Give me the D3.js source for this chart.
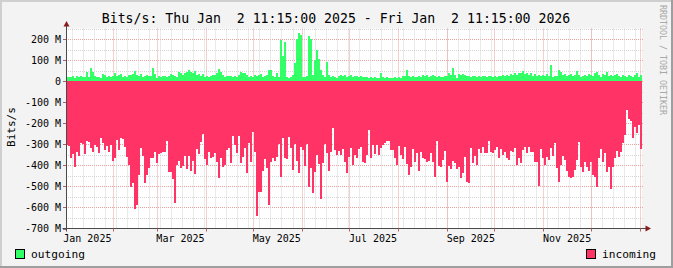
<!DOCTYPE html>
<html>
<head>
<meta charset="utf-8">
<script src="https://cdn.jsdelivr.net/npm/d3@7"></script>
<style>
  html, body { margin: 0; padding: 0; background: #f3f3f3; }
  svg { display: block; font-family: "DejaVu Sans Mono", monospace; }
</style>
</head>
<body>
<script>
// time window of the graph (one year, one value per consolidation step)
const startTime = new Date(2025, 0, 2, 11, 15);
const endTime = new Date(2026, 0, 2, 11, 15);

const titleText = 'Bits/s: Thu Jan  2 11:15:00 2025 - Fri Jan  2 11:15:00 2026';
const yAxisTitle = 'Bits/s';
const yTickValues = [200, 100, 0, -100, -200, -300, -400, -500, -600, -700];
const seriesNames = ['outgoing', 'incoming'];
const seriesColors = ['#33ff66', '#ff3366'];
const creditText = 'RRDTOOL / TOBI OETIKER';

// outgoing traffic, Mbit/s
const outgoing = [
  21,21,18,24,16,24,21,24,21,18, 43,21,62,45,23,21,21,16,32,28,
  21,24,18,26,37,26,29,32,18,26, 21,29,29,32,48,29,23,32,20,26,
  29,24,24,62,32,16,26,21,23,24, 21,26,32,29,24,21,42,40,29,37,
  42,51,42,37,48,29,32,24,32,21, 26,21,24,
  29,29,40,58,45,29,21,24,24,26, 21,26,20,29,45,37,37,29,21,24,
  18,29,26,29,32,21,24,29,53,53, 24,20,37,21,195,119,187,21,16,21,
  29,88,200,229,219,21,21,24,215,200, 29,100,148,103,53,29,21,91,29,21,
  24,21,16,24,29,26,29,21,26,29, 21,24,
  26,21,26,18,21,18,16,18,16,18, 16,16,40,21,16,18,16,16,16,18,
  16,18,13,24,26,53,24,21,26,18, 21,26,21,29,24,29,21,26,29,24,
  18,24,21,21,26,24,37,29,64,29, 16,32,29,32,29,26,24,21,24,26,
  21,24,21,24,26,21,24,26,21,24, 21,24,
  26,29,24,29,26,32,29,37,29,37, 40,48,32,37,29,37,26,32,26,29,
  24,29,26,32,24,77,21,24,26,53, 45,29,32,26,29,32,24,29,48,29,
  21,26,29,24,32,29,26,37,45,29, 21,32,29,45,26,29,24,29,32,26,
  21,29,26,21,29,24,21,29,40,21, 29
];

// incoming traffic, Mbit/s (drawn below zero)
const incoming = [
  -303,-308,-364,-346,-406,-337,-354,-294,-299,-346, -284,-288,-316,-338,-303,-311,-340,-272,-296,-327,
  -307,-335,-303,-379,-364,-280,-327,-272,-275,-311, -359,-398,-501,-486,-609,-588,-446,-319,-354,-482,
  -446,-411,-367,-364,-338,-390,-348,-343,-338,-338, -284,-432,-430,-465,-577,-398,-379,-414,-403,-356,
  -417,-356,-425,-379,-440,-324,-348,-291,-250,-368, -400,-335,-364,
  -359,-343,-383,-462,-367,-406,-398,-327,-319,-391, -261,-303,-343,-261,-387,-359,-319,-438,-296,-383,
  -243,-335,-639,-525,-525,-425,-370,-411,-588,-383, -364,-379,-359,-300,-454,-269,-364,-370,-264,-316,
  -422,-300,-379,-438,-311,-327,-402,-300,-501,-414, -533,-430,-351,-395,-561,-391,-300,-343,-425,-335,
  -224,-327,-351,-332,-351,-324,-383,-435,-359,-319, -398,-351,
  -364,-322,-311,-386,-391,-351,-232,-367,-303,-348, -303,-351,-316,-303,-296,-284,-284,-327,-327,-364,
  -398,-307,-351,-372,-311,-395,-446,-406,-322,-383, -343,-425,-335,-367,-370,-386,-379,-343,-386,-454,
  -284,-402,-406,-375,-332,-481,-402,-417,-379,-391, -417,-406,-462,-438,-359,-478,-482,-319,-391,-356,
  -398,-322,-340,-311,-343,-343,-284,-335,-343,-327, -314,-367,
  -322,-351,-335,-364,-375,-332,-335,-316,-398,-364, -391,-327,-311,-343,-311,-338,-335,-383,-386,-497,
  -322,-367,-398,-359,-375,-316,-354,-296,-414,-481, -398,-354,-375,-427,-454,-459,-454,-422,-375,-288,
  -406,-430,-383,-406,-427,-383,-446,-454,-501,-367, -322,-383,-343,-430,-406,-514,-406,-367,-332,-359,
  -338,-296,-256,-137,-180,-189,-269,-216,-248,-208, -322
];

const width = 673;
const height = 268;
const plot = { left: 66, right: 642, top: 28.5, bottom: 228.5 };

const svg = d3.select('body')
  .append('svg')
  .attr('width', width)
  .attr('height', height);

// background with the rrdtool style bevel
svg.append('rect').attr('width', width).attr('height', height).attr('fill', '#f3f3f3');
svg.append('path').attr('d', `M0,1H${width} M1,0V${height}`).attr('stroke', '#cfcfcf').attr('stroke-width', 2);
svg.append('path').attr('d', `M0,${height - 1}H${width} M${width - 1},0V${height}`).attr('stroke', '#9e9e9e').attr('stroke-width', 2);

const x = d3.scaleTime()
  .domain([startTime, endTime])
  .range([plot.left, plot.right]);
const y = d3.scaleLinear()
  .domain([-700, 250])
  .range([plot.bottom, plot.top]);

// canvas
svg.append('rect')
  .attr('x', plot.left)
  .attr('y', plot.top)
  .attr('width', plot.right - plot.left)
  .attr('height', plot.bottom - plot.top)
  .attr('fill', '#ffffff');

const px = v => Math.round(v) + 0.5;

// horizontal grid: minor every 50 M, major every 100 M
const grid = svg.append('g').attr('fill', 'none').attr('stroke-dasharray', '1,1');
d3.range(-650, 251, 50).forEach(v => {
  const major = v % 100 === 0;
  grid.append('line')
    .attr('x1', plot.left).attr('x2', plot.right + 1)
    .attr('y1', px(y(v))).attr('y2', px(y(v)))
    .attr('stroke', major ? '#eba0a0' : '#d4d4d4');
});

// vertical grid: weeks (Mondays) and months
const months = d3.timeMonth.range(startTime, endTime);
d3.timeMonday.range(startTime, endTime).forEach(d => {
  grid.append('line')
    .attr('x1', px(x(d))).attr('x2', px(x(d)))
    .attr('y1', plot.top).attr('y2', plot.bottom)
    .attr('stroke', '#d4d4d4');
});
months.forEach(d => {
  grid.append('line')
    .attr('x1', px(x(d))).attr('x2', px(x(d)))
    .attr('y1', plot.top).attr('y2', plot.bottom)
    .attr('stroke', '#eba0a0');
});

// step areas
const stepMs = (endTime - startTime) / outgoing.length;
const toPoints = values => values.map((v, i) => ({ t: new Date(+startTime + i * stepMs), v }))
  .concat([{ t: endTime, v: values[values.length - 1] }]);

const area = d3.area()
  .x(d => x(d.t))
  .y0(y(0))
  .y1(d => y(d.v))
  .curve(d3.curveStepAfter);

svg.append('path')
  .attr('d', area(toPoints(outgoing)))
  .attr('fill', seriesColors[0])
  .attr('shape-rendering', 'crispEdges');

svg.append('path')
  .attr('d', area(toPoints(incoming)))
  .attr('fill', seriesColors[1])
  .attr('shape-rendering', 'crispEdges');

// axes
const axisColor = '#4a4a4a';
const arrowColor = '#8b1a1a';
svg.append('line')
  .attr('x1', plot.left + 0.5).attr('x2', plot.left + 0.5)
  .attr('y1', 26).attr('y2', plot.bottom + 3)
  .attr('stroke', axisColor);
svg.append('line')
  .attr('x1', plot.left - 3.5).attr('x2', plot.right + 4)
  .attr('y1', plot.bottom).attr('y2', plot.bottom)
  .attr('stroke', axisColor);
svg.append('path')
  .attr('d', `M${plot.left + 0.5},21 L${plot.left + 3.5},26.5 L${plot.left - 2.5},26.5 Z`)
  .attr('fill', arrowColor);
svg.append('path')
  .attr('d', `M${plot.right + 9},${plot.bottom} L${plot.right + 3.5},${plot.bottom - 3} L${plot.right + 3.5},${plot.bottom + 3} Z`)
  .attr('fill', arrowColor);

// tick marks
yTickValues.forEach(v => {
  svg.append('line')
    .attr('x1', plot.left - 3).attr('x2', plot.left)
    .attr('y1', px(y(v))).attr('y2', px(y(v)))
    .attr('stroke', '#b06060');
});
months.forEach(d => {
  svg.append('line')
    .attr('x1', px(x(d))).attr('x2', px(x(d)))
    .attr('y1', plot.bottom).attr('y2', plot.bottom + 3)
    .attr('stroke', '#b06060');
});

// y tick labels
const yFormat = v => (v === 0 ? '0' : `${v} M`);
svg.append('g')
  .selectAll('text')
  .data(yTickValues)
  .join('text')
  .attr('x', 61)
  .attr('y', v => y(v) + 3.5)
  .attr('text-anchor', 'end')
  .attr('font-size', 10)
  .attr('fill', '#000')
  .text(yFormat);

// x labels, every second month, centred half a month after the month start
const xFormat = d3.timeFormat('%b %Y');
const labelMonths = d3.timeMonth.every(2).range(new Date(2025, 0, 1), endTime)
  .filter(d => d3.timeDay.offset(d, 15) < endTime);
svg.append('g')
  .selectAll('text')
  .data(labelMonths)
  .join('text')
  .attr('x', d => x(d3.timeDay.offset(d, 15)))
  .attr('y', 242)
  .attr('text-anchor', 'middle')
  .attr('font-size', 10)
  .attr('fill', '#000')
  .text(xFormat);

// title
svg.append('text')
  .attr('x', 336)
  .attr('y', 23)
  .attr('text-anchor', 'middle')
  .attr('font-size', 13.2)
  .attr('xml:space', 'preserve')
  .style('white-space', 'pre')
  .attr('fill', '#000')
  .text(titleText);

// vertical axis title
svg.append('text')
  .attr('transform', 'translate(15,127) rotate(-90)')
  .attr('text-anchor', 'middle')
  .attr('font-size', 11)
  .attr('fill', '#000')
  .text(yAxisTitle);

// credit on the right edge
svg.append('text')
  .attr('transform', 'translate(660,5) rotate(90)')
  .attr('font-size', 8.3)
  .attr('fill', '#a8a8a8')
  .text(creditText);

// legend
const legend = [
  { name: seriesNames[0], color: seriesColors[0], x: 15.5, anchor: 'start' },
  { name: seriesNames[1], color: seriesColors[1], x: 586.5, anchor: 'start' },
];
legend.forEach(l => {
  svg.append('rect')
    .attr('x', l.x).attr('y', 249.5)
    .attr('width', 9).attr('height', 9)
    .attr('fill', l.color)
    .attr('stroke', '#000');
  svg.append('text')
    .attr('x', l.x + 15.5)
    .attr('y', 258)
    .attr('font-size', 11.2)
    .attr('fill', '#000')
    .text(l.name);
});
</script>
</body>
</html>
